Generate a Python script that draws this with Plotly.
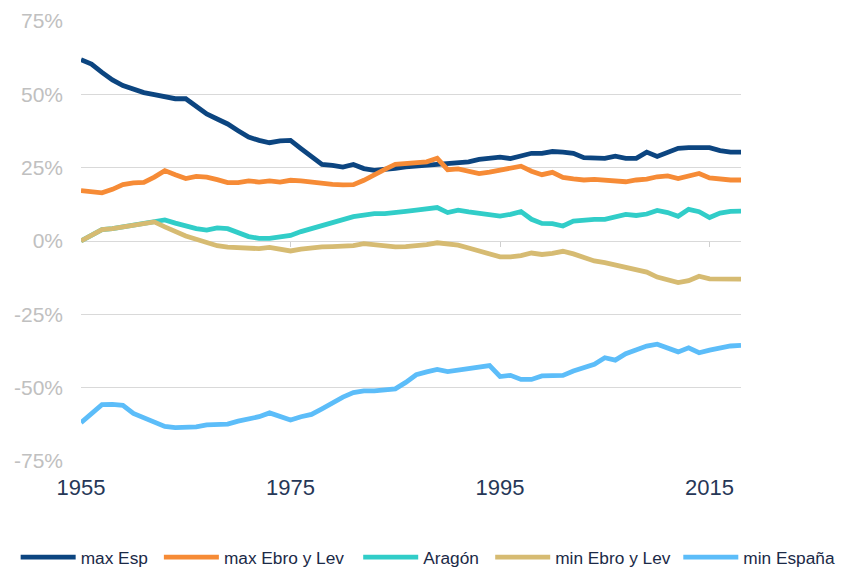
import plotly.graph_objects as go

years = list(range(1955, 2019))

max_esp = [61.8, 60.3, 57.5, 54.9, 53.0, 51.7, 50.6, 49.9, 49.2, 48.5,
           48.5, 46.1, 43.3, 41.6, 39.9, 37.6, 35.4, 34.3, 33.5, 34.1,
           34.3, 31.5, 28.6, 26.1, 25.8, 25.2, 26.1, 24.7, 24.1, 24.3,
           24.8, 25.3, 25.6, 25.8, 26.0, 26.1, 26.4, 27.0, 27.8, 28.4,
           28.6, 28.1, 29.0, 29.9, 29.9, 30.5, 30.3, 29.9, 28.4, 28.2,
           28.2, 28.9, 28.2, 28.2, 30.3, 28.8, 30.2, 31.6, 31.8, 31.8,
           31.8, 30.8, 30.3, 30.3]

max_ebro_lev = [17.2, 17.0, 16.4, 17.6, 19.2, 19.8, 20.0, 21.8, 24.0, 22.6,
                21.3, 22.0, 21.8, 20.9, 19.9, 19.9, 20.5, 20.1, 20.5, 20.1,
                20.7, 20.5, 20.0, 19.5, 19.3, 19.1, 19.2, 20.7, 22.7, 24.4,
                26.1, 26.4, 26.4, 27.0, 28.2, 24.3, 24.6, 24.0, 23.0, 23.5,
                24.1, 24.7, 25.5, 23.8, 22.6, 23.4, 21.7, 21.2, 20.8, 21.0,
                20.8, 20.2, 20.2, 20.8, 21.1, 21.9, 22.2, 21.3, 22.1, 23.0,
                21.5, 21.1, 20.8, 20.8]

aragon = [0.0, 1.9, 3.9, 4.2, 4.8, 5.4, 6.0, 6.5, 7.2, 6.1,
          5.0, 4.2, 3.7, 4.5, 4.2, 2.8, 1.5, 0.9, 0.9, 1.4,
          1.9, 3.2, 4.3, 5.1, 6.3, 7.4, 8.3, 8.8, 9.3, 9.3,
          9.5, 10.1, 10.5, 10.8, 11.4, 9.7, 10.5, 9.9, 9.3, 9.1,
          8.5, 9.1, 10.0, 7.4, 6.0, 5.9, 5.1, 6.8, 7.3, 7.4,
          7.4, 8.3, 9.1, 8.7, 9.2, 10.4, 9.7, 8.4, 10.8, 10.0,
          8.0, 9.5, 10.1, 10.2]

min_ebro_lev = [0.0, 1.9, 3.9, 4.2, 4.8, 5.4, 6.0, 6.5, 4.8, 3.1,
                1.7, 0.6, -0.5, -1.6, -2.1, -2.3, -2.6, -2.6, -2.2, -2.6,
                -3.4, -2.8, -2.2, -2.0, -1.9, -1.8, -1.6, -0.9, -1.3, -1.9,
                -2.0, -1.9, -1.7, -1.2, -0.6, -0.8, -1.4, -2.4, -3.5, -4.6,
                -5.4, -5.4, -5.0, -4.1, -4.6, -4.2, -3.5, -4.4, -5.6, -6.8,
                -7.4, -8.2, -9.2, -9.6, -10.6, -12.3, -13.1, -14.2, -13.5, -12.0,
                -12.9, -13.0, -13.0, -13.0]

min_espana = [-61.9, -58.6, -55.8, -55.7, -56.0, -58.8, -60.2, -61.8, -63.2, -63.6,
              -63.6, -63.4, -62.7, -62.7, -62.4, -61.4, -60.6, -59.9, -58.6, -59.9,
              -61.0, -59.9, -59.1, -57.2, -55.1, -53.2, -51.7, -51.1, -51.1, -50.8,
              -50.4, -48.2, -45.6, -44.6, -43.8, -44.5, -44.1, -43.5, -43.0, -42.5,
              -46.2, -45.8, -47.2, -47.2, -46.0, -45.8, -45.8, -44.3, -43.0, -42.0,
              -39.8, -40.6, -38.4, -36.9, -35.8, -35.2, -36.7, -37.8, -36.4, -38.1,
              -37.2, -36.4, -35.8, -35.6]

series_names = ["max Esp", "max Ebro y Lev", "Aragón", "min Ebro y Lev", "min España"]
series_values = [max_esp, max_ebro_lev, aragon, min_ebro_lev, min_espana]
series_colors = ["#0c4580", "#f68b36", "#31cdc8", "#d6bb72", "#5cbdf9"]

x_tickvals = [1955, 1975, 1995, 2015]
y_tickvals = [-75, -50, -25, 0, 25, 50, 75]
y_ticktext = ["-75%", "-50%", "-25%", "0%", "25%", "50%", "75%"]

# legend entry start positions (fraction of plot width, from plot left)
legend_x = [-0.099, 0.118, 0.420, 0.620, 0.905]
legend_ids = ["legend", "legend2", "legend3", "legend4", "legend5"]

fig = go.Figure()
for name, vals, col, lid in zip(series_names, series_values, series_colors, legend_ids):
    fig.add_trace(go.Scatter(x=years, y=vals, name=name, mode="lines", legend=lid,
                             line=dict(color=col, width=4.8)))

# helper trace on the overlay axis so the small tick marks at 0% are drawn
fig.add_trace(go.Scatter(x=[1955], y=[None], xaxis="x2", mode="lines",
                         showlegend=False, hoverinfo="skip"))

legend_style = dict(orientation="h", y=-0.219, yanchor="middle", xanchor="left",
                    font=dict(size=17.3, color="#1b2a47"), itemwidth=55,
                    bgcolor="rgba(0,0,0,0)", borderwidth=0)
layout_legends = {}
for lid, lx in zip(legend_ids, legend_x):
    layout_legends[lid] = dict(legend_style, x=lx)

# the page body adds an 8px margin, so the figure is 8px smaller
fig.update_layout(
    width=836, height=561,
    margin=dict(l=73, r=103, t=13, b=108, autoexpand=False),
    paper_bgcolor="white", plot_bgcolor="white",
    font=dict(family="Liberation Sans, Arial, sans-serif"),
    showlegend=True,
    xaxis=dict(range=[1955, 2018], tickvals=x_tickvals, ticktext=[str(v) for v in x_tickvals],
               showgrid=False, zeroline=False, showline=False, ticks="",
               tickfont=dict(size=22, color="#263757"), ticklabelstandoff=11),
    yaxis=dict(range=[-75, 75], tickvals=y_tickvals, ticktext=y_ticktext,
               showgrid=True, gridcolor="#d9d9d9", gridwidth=1, zeroline=False,
               showline=False, ticks="",
               tickfont=dict(size=21, color="#c0c0c0"), ticklabelstandoff=17),
    xaxis2=dict(overlaying="x", anchor="free", position=0.5, side="bottom",
                range=[1955, 2018], tickvals=[1975, 1995, 2015], showticklabels=False,
                ticks="outside", ticklen=5, tickcolor="#cfcfcf", tickwidth=1,
                showgrid=False, zeroline=False, showline=False),
    **layout_legends,
)

fig.write_html("out.html")
